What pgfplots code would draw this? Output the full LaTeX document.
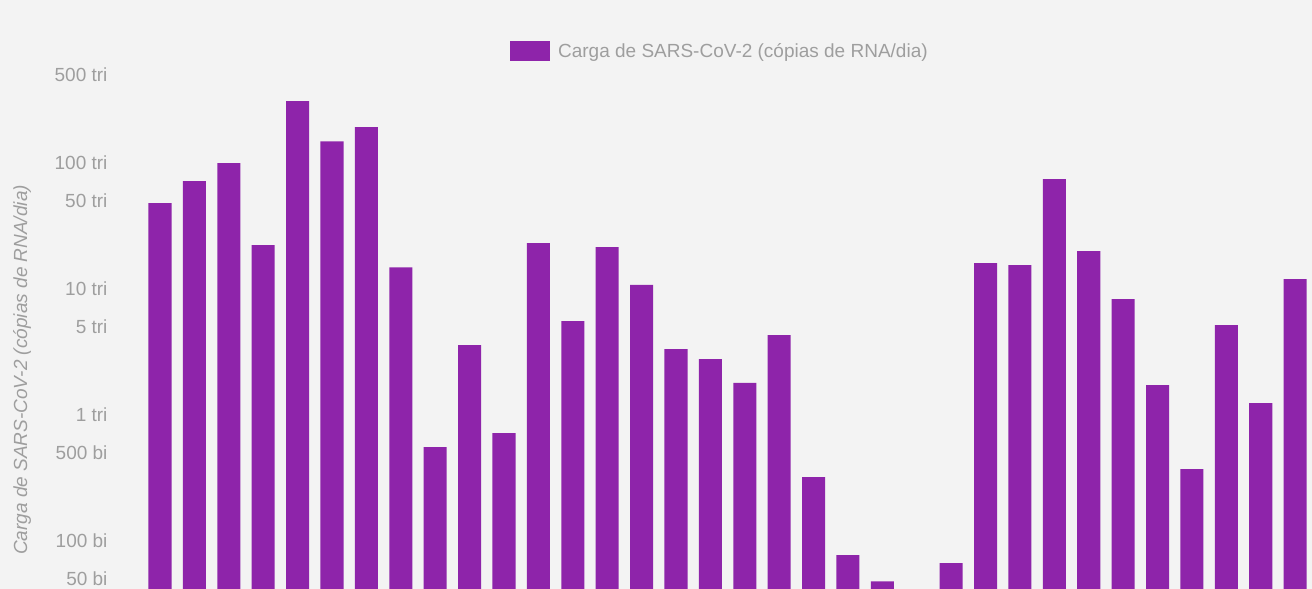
\documentclass[border=0pt]{standalone}
\usepackage{fontspec}
\setmainfont{Liberation Sans}
\usepackage{pgfplots}
\usepackage{pgfplotstable}
\pgfplotsset{compat=1.18}
\definecolor{bg}{HTML}{F3F3F3}
\definecolor{barc}{HTML}{8E24AA}
\definecolor{txt}{HTML}{9E9E9E}
\pgfplotstableread{
x y
0 48.2
1 72
2 100
3 22.3
4 310
5 149
6 193
7 14.9
8 0.557
9 3.6
10 0.72
11 23.2
12 5.57
13 21.5
14 10.8
15 3.34
16 2.78
17 1.80
18 4.31
19 0.322
20 0.0774
21 0.048
23 0.0668
24 16.1
25 15.5
26 74.7
27 20.0
28 8.33
29 1.73
30 0.373
31 5.18
32 1.245
33 12.0
}\datatable
\begin{document}
\begin{tikzpicture}
\useasboundingbox (0,0) rectangle (1312bp,589bp);
\fill[bg] (0,0) rectangle (1312bp,589bp);
\begin{axis}[
  at={(143bp,0bp)}, anchor=south west,
  scale only axis, width=1169bp, height=519bp,
  ymode=log, log origin=infty,
  xmin=-0.494, xmax=33.49,
  ymin=0.0417, ymax=548,
  axis line style={draw=none},
  major tick length=0pt,
  xtick=\empty,
  ytick={0.05,0.1,0.5,1,5,10,50,100,500},
  yticklabels={50 bi,100 bi,500 bi,1 tri,5 tri,10 tri,50 tri,100 tri,500 tri},
  yticklabel style={font=\fontsize{19bp}{22bp}\selectfont, text=txt, xshift=-32bp},
  ylabel={Carga de SARS-CoV-2 (cópias de RNA/dia)},
  ylabel style={at={(axis description cs:-0.1035,0.422)}, anchor=center, font=\itshape\fontsize{19bp}{22bp}\selectfont, text=txt},
  legend image code/.code={\fill[#1] (0bp,-10bp) rectangle (40bp,10bp); \path[draw=none,fill=none] (40bp,0bp) -- (46bp,0bp);},
  legend style={at={(axis description cs:0.4935,1.0366)}, anchor=center, draw=none, fill=none,
    font=\fontsize{19bp}{22bp}\selectfont, text=txt},
  clip=false,
]
\addplot[ybar, bar width=0.67, fill=barc, draw=none] table[x=x,y=y] {\datatable};
\addlegendentry{Carga de SARS-CoV-2 (cópias de RNA/dia)}
\end{axis}
\end{tikzpicture}
\end{document}
